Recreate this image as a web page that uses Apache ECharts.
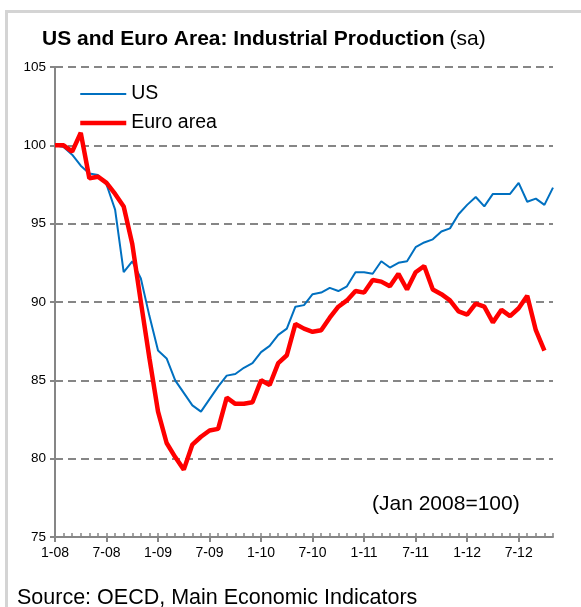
<!DOCTYPE html>
<html>
<head>
    <meta charset="utf-8">
    <script src="https://cdn.jsdelivr.net/npm/echarts@6/dist/echarts.min.js"></script>
</head>
<body style="margin:0;background:#fff;">
<div id="main" style="width:581px;height:607px;"></div>
<script type="text/javascript">
    // months Jan 2008 .. Nov 2012, label every 6th
    var months = [];
    for (var y = 8; y <= 12; y++) {
        for (var m = 1; m <= 12; m++) {
            if (y === 12 && m > 11) break;
            months.push(m + '-' + (y < 10 ? '0' + y : y));
        }
    }

    // Industrial production, Jan 2008 = 100
    var usValues = [
        100.0, 99.9, 99.4, 98.7, 98.2, 98.1, 97.5, 95.9, 91.9, 92.6,
        91.5, 89.1, 86.9, 86.4, 85.0, 84.2, 83.4, 83.0, 83.8, 84.6,
        85.3, 85.4, 85.8, 86.1, 86.8, 87.2, 87.9, 88.3, 89.7, 89.8,
        90.5, 90.6, 90.9, 90.7, 91.0, 91.9, 91.9, 91.8, 92.6, 92.2,
        92.5, 92.6, 93.5, 93.8, 94.0, 94.5, 94.7, 95.6, 96.2, 96.7,
        96.1, 96.9, 96.9, 96.9, 97.6, 96.4, 96.6, 96.2, 97.3
    ];
    var euroValues = [
        100.0, 100.0, 99.6, 100.8, 97.9, 98.0, 97.6, 96.9, 96.1, 93.7,
        90.0, 86.4, 83.0, 81.0, 80.1, 79.3, 80.9, 81.4, 81.8, 81.9,
        83.9, 83.5, 83.5, 83.6, 85.0, 84.7, 86.1, 86.6, 88.6, 88.3,
        88.1, 88.2, 89.0, 89.7, 90.1, 90.7, 90.6, 91.4, 91.3, 91.0,
        91.8, 90.8, 91.9, 92.3, 90.8, 90.5, 90.1, 89.4, 89.2, 89.9,
        89.7, 88.7, 89.5, 89.1, 89.6, 90.4, 88.2, 86.9
    ];

    var FONT = '"Liberation Sans", Arial, sans-serif';
    var GREY = '#868686';
    var US_W = 2, EURO_W = 4.5;

    var myChart = echarts.init(document.getElementById('main'));

    option = {
        animation: false,
        textStyle: {fontFamily: FONT},
        title: {
            text: '{b|US and Euro Area: Industrial Production} {n|(sa)}',
            left: 37,
            top: 24,
            textStyle: {
                fontWeight: 'normal',
                rich: {
                    b: {fontFamily: FONT, fontSize: 21, fontWeight: 'bold', color: '#000'},
                    n: {fontFamily: FONT, fontSize: 21, fontWeight: 'normal', color: '#000'}
                }
            }
        },
        legend: {
            orient: 'vertical',
            left: 73,
            top: 79,
            itemWidth: 46,
            itemHeight: 14,
            itemGap: 9,
            itemStyle: {opacity: 0},
            textStyle: {fontFamily: FONT, fontSize: 19.5, color: '#000', lineHeight: 20},
            data: [
                {name: 'US', lineStyle: {width: US_W}},
                {name: 'Euro area', lineStyle: {width: EURO_W}}
            ]
        },
        grid: {left: 55, right: 28, top: 67, bottom: 70},
        xAxis: [
            {
                type: 'category',
                data: months,
                boundaryGap: false,
                axisLine: {lineStyle: {color: GREY, width: 2}},
                axisTick: {interval: 5, length: 5, lineStyle: {color: GREY, width: 2}},
                axisLabel: {interval: 5, color: '#000', fontSize: 14, margin: 9},
                splitLine: {show: false}
            },
            {
                type: 'category',
                data: months,
                position: 'bottom',
                boundaryGap: false,
                axisLine: {show: false},
                axisTick: {interval: 0, inside: true, length: 4, lineStyle: {color: GREY, width: 1.5}},
                axisLabel: {show: false},
                splitLine: {show: false}
            }
        ],
        yAxis: {
            type: 'value',
            min: 75,
            max: 105,
            interval: 5,
            axisLine: {show: true, lineStyle: {color: GREY, width: 2}},
            axisTick: {show: true, length: 5, lineStyle: {color: GREY, width: 2}},
            axisLabel: {color: '#000', fontSize: 13.5, margin: 9},
            splitLine: {lineStyle: {color: GREY, width: 2, type: [8, 5]}}
        },
        graphic: [
            {
                type: 'rect',
                left: 4,
                top: 9,
                shape: {width: 620, height: 640},
                style: {fill: 'none', stroke: '#d4d4d4', lineWidth: 3},
                silent: true
            },
            {
                type: 'text',
                left: 372,
                top: 494,
                style: {text: '(Jan 2008=100)', font: '21px ' + FONT, fill: '#000'}
            },
            {
                type: 'text',
                left: 17,
                top: 587,
                style: {text: 'Source: OECD, Main Economic Indicators', font: '21.5px ' + FONT, fill: '#000'}
            }
        ],
        series: [
            {
                name: 'US',
                type: 'line',
                data: usValues,
                symbol: 'none',
                lineStyle: {color: '#0070C0', width: US_W},
                itemStyle: {color: '#0070C0'},
                z: 3
            },
            {
                name: 'Euro area',
                type: 'line',
                data: euroValues,
                symbol: 'none',
                lineStyle: {color: '#FF0000', width: EURO_W},
                itemStyle: {color: '#FF0000'},
                z: 4
            }
        ]
    };

    myChart.setOption(option);
</script>
</body>
</html>
